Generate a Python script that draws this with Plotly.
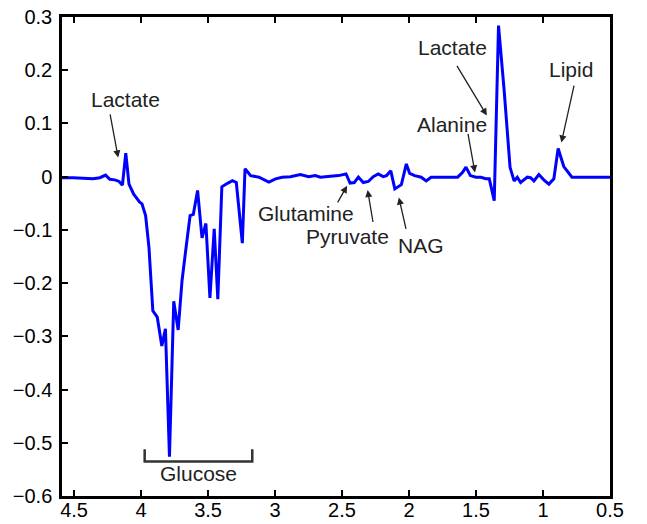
import plotly.graph_objects as go

# Chemical shift (ppm) and difference intensity of the spectrum
ppm = [4.59, 4.507, 4.359, 4.307, 4.265, 4.233, 4.196, 4.164, 4.139, 4.114,
       4.090, 4.055, 4.010, 3.993, 3.966, 3.941, 3.912, 3.879, 3.845, 3.818,
       3.788, 3.756, 3.723, 3.694, 3.664, 3.634, 3.610, 3.578, 3.545, 3.516,
       3.486, 3.454, 3.427, 3.397, 3.355, 3.318, 3.289, 3.244, 3.224, 3.182,
       3.120, 3.046, 2.996, 2.947, 2.885, 2.811, 2.749, 2.700, 2.662, 2.601,
       2.527, 2.470, 2.440, 2.408, 2.378, 2.341, 2.304, 2.267, 2.230, 2.193,
       2.168, 2.136, 2.106, 2.057, 2.020, 1.995, 1.958, 1.909, 1.872, 1.835,
       1.760, 1.637, 1.600, 1.575, 1.542, 1.501, 1.464, 1.427, 1.401, 1.364,
       1.332, 1.290, 1.246, 1.216, 1.192, 1.167, 1.117, 1.093, 1.068, 1.031,
       0.994, 0.956, 0.919, 0.887, 0.845, 0.784, 0.50]
intensity = [-0.002, -0.002, -0.004, -0.002, 0.003, -0.005, -0.006, -0.009, -0.016, 0.044,
             -0.014, -0.033, -0.048, -0.051, -0.073, -0.133, -0.252, -0.264, -0.318, -0.286,
             -0.526, -0.234, -0.288, -0.195, -0.133, -0.073, -0.071, -0.026, -0.115, -0.088,
             -0.228, -0.098, -0.230, -0.019, -0.0125, -0.0075, -0.011, -0.125, 0.015, 0.002,
             -0.001, -0.010, -0.004, -0.001, 0.000, 0.004, 0.000, 0.002, -0.001, 0.000,
             0.002, 0.005, -0.012, -0.011, -0.001, -0.011, -0.009, 0.000, 0.005, 0.000,
             0.002, 0.011, -0.023, -0.015, 0.024, 0.006, 0.002, -0.001, -0.008, -0.001,
             -0.001, -0.001, 0.008, 0.018, 0.002, -0.001, -0.001, -0.004, -0.004, -0.045,
             0.284, 0.162, 0.0175, -0.008, -0.001, -0.011, -0.001, -0.002, -0.008, 0.004,
             -0.006, -0.014, -0.004, 0.053, 0.019, -0.001, -0.001]

x_tick_vals = [4.5, 4.0, 3.5, 3.0, 2.5, 2.0, 1.5, 1.0, 0.5]
x_tick_text = ["4.5", "4", "3.5", "3", "2.5", "2", "1.5", "1", "0.5"]
y_tick_vals = [0.3, 0.2, 0.1, 0.0, -0.1, -0.2, -0.3, -0.4, -0.5, -0.6]
y_tick_text = ["0.3", "0.2", "0.1", "0", "\u22120.1", "\u22120.2", "\u22120.3",
               "\u22120.4", "\u22120.5", "\u22120.6"]

# Metabolite labels: name, label position, arrow tail, arrow head (ppm, intensity)
labels = ["Lactate", "Glutamine", "Pyruvate", "NAG", "Lactate", "Alanine", "Lipid"]
label_pos = [(4.114, 0.145), (2.771, -0.070), (2.460, -0.113), (1.911, -0.130),
             (1.674, 0.242), (1.681, 0.098), (0.791, 0.201)]
arrow_tail = [(4.233, 0.120), (2.539, -0.051), (2.267, -0.088), (2.020, -0.101),
              (1.649, 0.211), (1.562, 0.083), (0.766, 0.174)]
arrow_head = [(4.171, 0.036), (2.462, -0.017), (2.309, -0.025), (2.076, -0.039),
              (1.419, 0.115), (1.508, 0.008), (0.863, 0.064)]

# Glucose region bracket
glucose_span = (3.973, 3.170)
glucose_levels = (-0.512, -0.535)
glucose_label_y = -0.558

label_font = dict(family="Liberation Sans, Arial, sans-serif", size=21, color="#222222")

fig = go.Figure()
fig.add_trace(go.Scatter(x=ppm, y=intensity, mode="lines",
                         line=dict(color="#0000FF", width=3), showlegend=False))

annots = []
for name, (tx, ty), (ax_, ay_), (hx, hy) in zip(labels, label_pos, arrow_tail, arrow_head):
    annots.append(dict(x=hx, y=hy, ax=ax_, ay=ay_, xref="x", yref="y", axref="x", ayref="y",
                       text="", showarrow=True, arrowhead=2, arrowsize=1.1, arrowwidth=1.3,
                       arrowcolor="#222222"))
    annots.append(dict(x=tx, y=ty, xref="x", yref="y", text=name, showarrow=False,
                       font=label_font))

annots.append(dict(x=sum(glucose_span) / 2, y=glucose_label_y, xref="x", yref="y",
                   text="Glucose", showarrow=False, font=label_font))

fig.add_shape(type="path", xref="x", yref="y",
              path=(f"M {glucose_span[0]} {glucose_levels[0]} L {glucose_span[0]} {glucose_levels[1]} "
                    f"L {glucose_span[1]} {glucose_levels[1]} L {glucose_span[1]} {glucose_levels[0]}"),
              line=dict(color="#333333", width=2.5))

fig.update_layout(
    width=647, height=524,
    margin=dict(l=62, r=37, t=17, b=28),
    paper_bgcolor="white", plot_bgcolor="white",
    annotations=annots,
    font=dict(family="Liberation Sans, Arial, sans-serif", size=20, color="black"),
    xaxis=dict(range=[4.59, 0.5], tickvals=x_tick_vals, ticktext=x_tick_text,
               showgrid=False, zeroline=False, showline=True, linecolor="black", linewidth=2.5,
               mirror="ticks", ticks="inside", ticklen=6, tickwidth=2, tickcolor="black",
               tickfont=dict(size=20), ticklabelstandoff=-6, automargin=False),
    yaxis=dict(range=[-0.6, 0.3], tickvals=y_tick_vals, ticktext=y_tick_text,
               showgrid=False, zeroline=False, showline=True, linecolor="black", linewidth=2.5,
               mirror=True, ticks="inside", ticklen=6, tickwidth=2, tickcolor="black",
               tickfont=dict(size=20), ticklabelstandoff=3, automargin=False),
)

fig.write_html("out.html")
